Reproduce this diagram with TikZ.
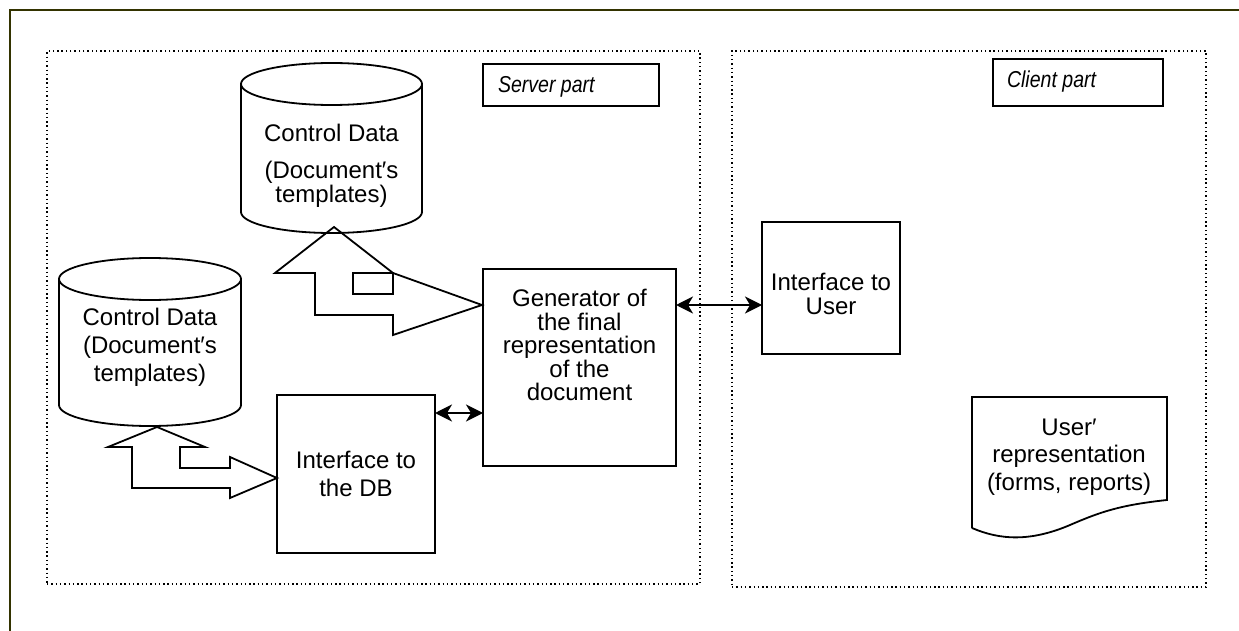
\documentclass[tikz,border=0pt]{standalone}
\usepackage{fontspec}
\setmainfont{Liberation Sans}
\newfontfamily\narrowfont[FakeStretch=0.85]{Liberation Sans}
\usetikzlibrary{arrows.meta}
\definecolor{frameolive}{HTML}{333300}
\begin{document}
\begin{tikzpicture}[x=1pt,y=-1pt,
  every node/.style={inner sep=0pt, outer sep=0pt},
  ln/.style={line width=1.8pt, line join=miter},
  box/.style={draw, line width=1.8pt},
  dotbox/.style={draw, line width=1.4pt, dash pattern=on 1.4pt off 2.9pt},
  txt/.style={align=center, font=\fontsize{24}{#1}\selectfont},
  lbl/.style={font=\narrowfont\itshape\fontsize{23}{26}\selectfont},
  dbl/.style={line width=1.8pt,
    {Stealth[length=17pt,width=17pt,inset=5pt]}-{Stealth[length=17pt,width=17pt,inset=5pt]}}
]
\useasboundingbox (0,0) rectangle (1239,631);
\fill[white] (0,0) rectangle (1239,631);
% outer frame
\draw[frameolive, line width=2.5pt] (10,640) -- (10,10) -- (1250,10);

% server and client regions
\node[dotbox, minimum width=653pt, minimum height=533pt] (server) at (373.5,317.5) {};
\node[dotbox, minimum width=474pt, minimum height=536pt] (client) at (969,319) {};

% region labels
\node[box, minimum width=176pt, minimum height=42pt] (srvlbl) at (571,85) {};
\node[lbl, anchor=base west] (srvtxt) at (498,93) {Server part};
\node[box, minimum width=170pt, minimum height=47pt] (clilbl) at (1078,82.5) {};
\node[lbl, anchor=base west] (clitxt) at (1007,88) {Client part};

% upper cylinder
\draw[ln] (241,84) -- (241,212) arc[start angle=180,end angle=0,x radius=90.5,y radius=21] -- (422,84);
\draw[ln] (331.5,84) ellipse[x radius=90.5, y radius=21];
\node[txt=24] (cyl1) at (331.5,166) {Control Data\\[13pt](Document′s\\templates)};

% lower cylinder
\draw[ln] (59,279) -- (59,405) arc[start angle=180,end angle=0,x radius=91,y radius=21] -- (241,279);
\draw[ln] (150,279) ellipse[x radius=91, y radius=21];
\node[txt=28] (cyl2) at (150,347.5) {Control Data\\(Document′s\\templates)};

% block arrows
\draw[ln] (334,227) -- (393,273) -- (482,305) -- (393,335) -- (393,315) -- (315,315) -- (315,273) -- (275,273) -- cycle;
\draw[ln] (353,273) rectangle (393,294);
\draw[ln] (157,427) -- (205,447) -- (180,447) -- (180,468) -- (230,468) -- (230,457) -- (277,478)
  -- (230,498) -- (230,488) -- (132,488) -- (132,447) -- (108,447) -- cycle;

% boxes
\node[box, minimum width=158pt, minimum height=158pt] (db) at (356,474) {};
\node[txt=28] (dbtxt) at (356,474) {Interface to\\the DB};
\node[box, minimum width=193pt, minimum height=197pt] (gen) at (579.5,367.5) {};
\node[txt=23.5] (gentxt) at (579.5,345) {Generator of\\the final\\representation\\of the\\document};
\node[box, minimum width=138pt, minimum height=132pt] (ui) at (831,288) {};
\node[txt=24] (uitxt) at (831,294) {Interface to\\User};

% document shape
\draw[ln] (972,528) -- (972,397) -- (1167,397) -- (1167,500)
  .. controls (1120,505) and (1100,512) .. (1070,525)
  .. controls (1030,542) and (1000,540) .. (972,528);
\node[txt=27.5] (doctxt) at (1069,457) {User′\\representation\\(forms, reports)};

% connectors
\draw[dbl] ([yshift=-18pt]db.north east) -- ([yshift=-18pt]db.north east -| gen.west);
\draw[dbl] ([yshift=-36pt]gen.north east) -- ([yshift=-36pt]gen.north east -| ui.west);
\end{tikzpicture}
\end{document}
